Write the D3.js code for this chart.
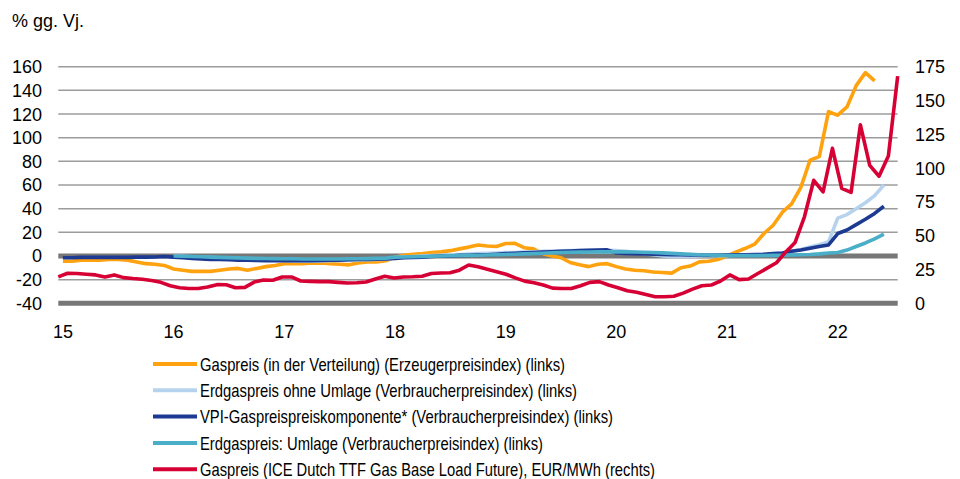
<!DOCTYPE html>
<html>
<head>
<meta charset="utf-8">
<script src="https://cdn.jsdelivr.net/npm/d3@7"></script>
<style>
  body { margin: 0; background: #fff; }
  svg { display: block; font-family: "Liberation Sans", Arial, sans-serif; }
</style>
</head>
<body>
<svg width="960" height="479"></svg>
<script>
// Year labels on the x axis (one per January)
const yearLabels = ["15", "16", "17", "18", "19", "20", "21", "22"];
const monthCount = 91; // Jan 2015 .. Jul 2022

// Left axis ticks (% gg. Vj.) and right axis ticks (EUR/MWh)
const leftTicks = [-40, -20, 0, 20, 40, 60, 80, 100, 120, 140, 160];
const rightTicks = [0, 25, 50, 75, 100, 125, 150, 175];

// Gaspreis (in der Verteilung) (Erzeugerpreisindex), Jan 15 .. May 22
const orange = [
  -4.5, -4.5, -3.5, -3.5, -3.5, -3, -3, -3.5, -5, -6.5, -7, -8,
  -11, -12, -13, -13, -13, -12, -11, -10.5, -12, -10.5, -9, -8,
  -6.5, -6.5, -6.5, -6, -6, -6.5, -7, -7.5, -6, -5, -5, -4,
  -1, 0.5, 1.5, 2, 3, 3.5, 4.5, 6, 7.5, 9.3, 8.5, 8,
  10.5, 10.7, 7, 6, 2, 0, -1.5, -5.5, -7.5, -9, -7, -6.5,
  -9, -11, -12, -12.5, -13.5, -14, -14.5, -10, -8.5, -5, -4.5, -3,
  0, 3.5, 6.5, 10, 19, 26, 37, 44, 58, 81, 84, 122,
  119, 126, 144, 155, 148
];

// Erdgaspreis ohne Umlage (VPI), Jan 16 .. Jun 22
const lightBlue = [
  0, -0.3, -0.6, -1, -1.3, -1.6, -2, -2.3, -2.6, -3, -3.3, -3.6,
  -4, -4.3, -4.5, -4.5, -4.3, -4, -3.8, -3.6, -3.4, -3.2, -3, -2.8,
  -1.5, -1, -0.5, 0, 0.3, 0.6, 1, 1.3, 1.6, 2, 2.2, 2.5,
  2.8, 3, 3.3, 3.6, 3.9, 4.2, 4.4, 4.5, 4.6, 4.7, 4.8, 4.8,
  4.5, 4, 3.2, 2, 1, 0, -0.5, -0.5, -0.3, 0, 0.2, 0.3,
  0.5, 0.7, 0.9, 1, 1.3, 1.6, 2.2, 4, 5.5, 7.5, 9.5, 12,
  32, 35, 40, 45, 51, 60
];

// VPI-Gaspreispreiskomponente (VPI), Jan 15 .. Jun 22
const darkBlue = [
  -1.5, -1.5, -1.2, -1.2, -1.2, -1.2, -1.2, -1.2, -1, -1, -0.8, -0.5,
  -1, -1.5, -2, -2.5, -3, -3, -3.2, -3.5, -3.5, -3.8, -4, -4,
  -4, -4, -4, -4, -3.8, -3.5, -3.5, -3.2, -3, -3, -2.8, -2.5,
  -2, -1.5, -1.2, -1, -0.5, 0, 0, 0.5, 0.5, 1, 1, 1.5,
  2, 2.3, 2.6, 3, 3.3, 3.6, 4, 4.2, 4.5, 4.7, 5, 5.2,
  2.5, 2.2, 2, 1.8, 1.5, 1.2, 1, 1, 0.8, 0.8, 0.6, 0.6,
  0.8, 1, 1, 1.2, 1.5, 2, 2.5, 4, 5, 6.5, 8, 9.3,
  19, 22, 26.5, 31, 36, 42
];

// Erdgaspreis: Umlage (VPI), Jan 16 .. Jun 22
const teal = [
  0, -0.2, -0.5, -0.7, -1, -1.2, -1.4, -1.6, -1.8, -2, -2.1, -2.2,
  -2.3, -2.4, -2.5, -2.5, -2.5, -2.5, -2.5, -2.4, -2.3, -2.2, -2, -1.8,
  -1, -0.8, -0.6, -0.4, -0.2, 0, 0.2, 0.4, 0.5, 0.6, 0.8, 1,
  1.2, 1.5, 1.8, 2, 2.3, 2.6, 2.9, 3.1, 3.3, 3.4, 3.5, 3.5,
  3.5, 3.5, 3.4, 3.2, 3, 2.6, 2.2, 1.8, 1.4, 1, 0.8, 0.5,
  0.3, 0.3, 0.3, 0.3, 0.4, 0.5, 0.6, 0.8, 1, 1.3, 1.8, 2.5,
  3, 5, 8, 11, 14.5, 18.5
];

// Gaspreis ICE Dutch TTF, EUR/MWh (right axis), Jan 15 .. Jul 22
const red = [
  19.5, 22.2, 22, 21.5, 21, 19.5, 21, 19, 18.3, 17.8, 16.8, 15.5,
  13, 11.5, 11, 11, 12, 13.8, 13.7, 11.5, 11.8, 15.7, 17.2, 17,
  19.5, 19.5, 16.5, 16.2, 16, 16, 15.5, 15, 15.2, 15.7, 18, 20,
  18.7, 19.5, 19.6, 20, 22, 22.4, 22.6, 24.5, 28.3, 27, 25.2, 23.4,
  21.5, 18.8, 16.4, 15.2, 13.5, 11.2, 11, 11, 13, 15.5, 16, 13.5,
  11.5, 9.3, 8.2, 6.5, 4.9, 4.9, 5.2, 7.5, 10.5, 13, 13.5, 16.5,
  21, 17.5, 18, 22, 26, 30, 38, 45, 64, 91, 82.5, 114.6,
  85, 82, 132, 102, 94, 109, 168
];

const series = [
  { name: "Gaspreis (in der Verteilung) (Erzeugerpreisindex) (links)", values: orange, start: 0, color: "#ffa20f", axis: "left", textLen: 365 },
  { name: "Erdgaspreis ohne Umlage (Verbraucherpreisindex) (links)", values: lightBlue, start: 12, color: "#b6d3ee", axis: "left", textLen: 377 },
  { name: "VPI-Gaspreispreiskomponente* (Verbraucherpreisindex) (links)", values: darkBlue, start: 0, color: "#1d3a92", axis: "left", textLen: 413 },
  { name: "Erdgaspreis: Umlage (Verbraucherpreisindex) (links)", values: teal, start: 12, color: "#4aaec8", axis: "left", textLen: 343 },
  { name: "Gaspreis (ICE Dutch TTF Gas Base Load Future), EUR/MWh (rechts)", values: red, start: 0, color: "#d70035", axis: "right", textLen: 455 }
];

const svg = d3.select("svg");
const plotLeft = 58.3, plotRight = 897.7, plotTop = 66.7, plotBottom = 303.3;

const months = d3.range(monthCount);
// Monthly slots for the left-axis series (points sit in the middle of each month)
const xBand = d3.scaleBand().domain(months).range([plotLeft, plotRight]).padding(0);
// The TTF price runs edge to edge
const xPoint = d3.scalePoint().domain(months).range([plotLeft, plotRight]);

const yLeft = d3.scaleLinear().domain([-40, 160]).range([plotBottom, plotTop]);
const yRight = d3.scaleLinear().domain([0, 175]).range([plotBottom, plotTop]);

// Title
svg.append("text")
  .attr("x", 12).attr("y", 27)
  .style("font-size", "18px").attr("fill", "#000")
  .text("% gg. Vj.");

// Gridlines
svg.append("g").selectAll("line")
  .data(leftTicks)
  .enter().append("line")
  .attr("x1", plotLeft).attr("x2", plotRight)
  .attr("y1", d => yLeft(d)).attr("y2", d => yLeft(d))
  .attr("stroke", d => (d === 0 || d === -40) ? "#777" : "#9c9c9c")
  .attr("stroke-width", d => (d === 0 || d === -40) ? 5 : 1.5);

// Left axis labels
svg.append("g").selectAll("text")
  .data(leftTicks)
  .enter().append("text")
  .attr("x", 42).attr("y", d => yLeft(d))
  .attr("dy", "0.36em")
  .attr("text-anchor", "end")
  .style("font-size", "18px")
  .text(d => d);

// Right axis labels
svg.append("g").selectAll("text")
  .data(rightTicks)
  .enter().append("text")
  .attr("x", 915).attr("y", d => yRight(d))
  .attr("dy", "0.36em")
  .attr("text-anchor", "start")
  .style("font-size", "18px")
  .text(d => d);

// X axis labels, one per January
svg.append("g").selectAll("text")
  .data(yearLabels)
  .enter().append("text")
  .attr("x", (d, i) => xBand(i * 12) + xBand.bandwidth() / 2)
  .attr("y", 338)
  .attr("text-anchor", "middle")
  .style("font-size", "18px")
  .text(d => d);

// Lines
const lineGroup = svg.append("g");
series.forEach(s => {
  const pts = s.values.map((v, i) => ({ m: s.start + i, v: v }));
  const line = d3.line()
    .x(d => s.axis === "right" ? xPoint(d.m) : xBand(d.m) + xBand.bandwidth() / 2)
    .y(d => s.axis === "right" ? yRight(d.v) : yLeft(d.v));
  lineGroup.append("path")
    .datum(pts)
    .attr("fill", "none")
    .attr("stroke", s.color)
    .attr("stroke-width", 3.6)
    .attr("stroke-linejoin", "round")
    .attr("d", line);
});

// Legend
const legend = svg.append("g");
series.forEach((s, i) => {
  const y = 364 + i * 26.3;
  legend.append("line")
    .attr("x1", 153).attr("x2", 197)
    .attr("y1", y).attr("y2", y)
    .attr("stroke", s.color).attr("stroke-width", 4);
  legend.append("text")
    .attr("x", 200).attr("y", y)
    .attr("dy", "0.36em")
    .style("font-size", "18.5px")
    .attr("textLength", s.textLen)
    .attr("lengthAdjust", "spacingAndGlyphs")
    .text(s.name);
});
</script>
</body>
</html>
